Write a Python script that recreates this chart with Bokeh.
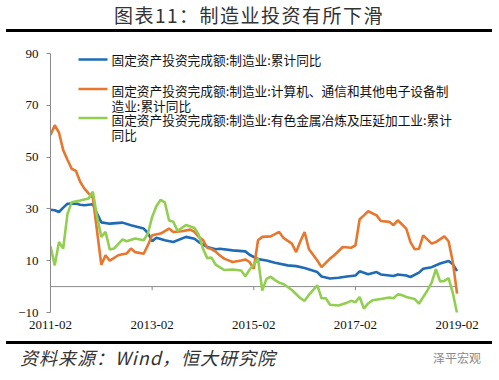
from bokeh.plotting import figure
from bokeh.models import Label, BoxAnnotation, FixedTicker, Div
from bokeh.layouts import column
from bokeh.embed import file_html
from bokeh.resources import INLINE

# ---- data (month index: 0 = 2011-02) ----
blue_m = [0,1,2,3,4,6,7,8,10,11,12,14,17,19,22,23,24,25,27,29,32,34,35,37,39,40,43,46,47,49,51,53,56,58,60,63,64,66,68,70,72,73,75,77,78,81,82,84,85,87,88,90,92,94,95,96]
blue_v = [29.7,29.5,28.8,30.5,32.0,32.1,31.6,31.4,31.8,28.2,24.8,24.3,24.7,23.7,22.4,20.7,17.5,18.9,17.9,17.2,19.2,18.5,17.2,15.3,14.4,14.6,14.0,13.6,12.3,10.6,10.1,9.2,8.2,7.9,7.2,5.6,3.9,3.1,3.4,3.9,4.3,5.9,4.8,5.6,4.7,4.1,4.7,4.3,3.7,5.4,6.9,7.5,8.9,9.9,8.6,6.0]

orange_m = [0,1,2,3,4,5,6,7,8,9,10,12,13,14,16,17,18,19,20,22,23,24,26,28,29,31,33,34,35,36,37,38,39,40,41,43,45,46,47,48,49,50,52,54,55,57,58,59,60,61,63,64,66,67,69,71,72,73,74,75,77,78,80,81,82,84,85,86,87,88,90,91,93,94,95,96]
orange_v = [58.5,62.3,59.5,52.7,49.0,45.5,44.7,40.5,37.8,36.0,34.3,8.4,12.1,10.0,12.1,12.5,12.8,14.7,13.3,12.7,16.0,19.8,20.5,22.4,21.1,21.4,22.0,21.1,19.2,18.0,15.0,14.5,13.5,12.0,10.8,9.5,10.1,10.5,9.5,6.9,17.9,19.2,19.4,21.1,18.8,16.6,13.3,17.5,21.1,14.5,10.1,7.5,10.8,12.1,15.3,15.0,15.9,26.0,27.5,29.1,27.5,25.3,25.0,23.7,25.6,22.4,17.2,14.4,14.6,19.8,16.6,17.2,19.4,17.5,9.5,-2.7]

green_m = [0,1,2,3,4,5,7,9,10,11,12,13,14,15,17,18,20,22,23,24,25,26,27,28,29,30,32,34,35,36,37,38,39,41,43,45,46,47,48,49,50,51,52,53,54,55,57,59,60,61,63,64,65,66,68,70,71,72,73,74,75,76,78,80,81,82,83,84,86,87,88,89,90,91,92,93,94,95,96]
green_v = [15.6,8.2,17.2,14.7,28.0,32.6,33.2,34.0,36.6,27.0,19.2,21.1,14.3,14.7,18.2,17.5,18.6,17.9,20.5,26.9,31.0,33.5,32.5,25.5,25.0,21.5,23.8,22.6,20.0,14.7,11.0,11.2,8.5,6.4,6.6,6.2,4.0,6.5,8.5,10.8,-1.5,3.0,3.8,2.5,1.5,1.0,-1.3,-4.5,-5.5,-3.2,0.5,-4.5,-4.5,-7.0,-7.3,-6.2,-5.5,-6.0,-4.0,-8.5,-6.5,-5.3,-4.8,-4.2,-4.5,-3.0,-3.3,-4.0,-4.8,-6.6,-4.0,-1.5,1.5,6.7,2.0,2.2,3.3,-2.5,-10.3]

tick_months = [0, 24, 48, 72, 96]
tick_labels = ["2011-02", "2013-02", "2015-02", "2017-02", "2019-02"]
y_ticks = [-10, 10, 30, 50, 70, 90]

series_names = [
    ["固定资产投资完成额:制造业:累计同比"],
    ["固定资产投资完成额:制造业:计算机、通信和其他电子设备制", "造业:累计同比"],
    ["固定资产投资完成额:制造业:有色金属冶炼及压延加工业:累计", "同比"],
]
title_text = "图表11：制造业投资有所下滑"
source_text = "资料来源：Wind，恒大研究院"
mark_text = "泽平宏观"

BLUE, ORANGE, GREEN = "#1F6CB4", "#E8762D", "#92CF50"
AX = "#8a8a8a"
CJK = "Noto Sans CJK SC"

# ---- layout geometry (page pixels) ----
TOP_H = 38          # title block height
W, H = 499, 303     # figure
ML, MR, MT, MB = 50, 31, 15, 29
BOT_H = 39
X0, X1, Y0, Y1 = 0, 98.7, -10, 90

title_div = Div(width=W, height=TOP_H, margin=(0, 0, 0, 0), text=(
    f'<div style="margin-left:6px;width:486px;height:32px;line-height:30px;'
    f'border-bottom:3.5px solid #000;text-align:center;font-family:\'{CJK}\';'
    f'font-size:19px;letter-spacing:1.5px;color:#333;">{title_text}</div>'))

p = figure(width=W, height=H, x_range=(X0, X1), y_range=(Y0, Y1),
           output_backend="svg", toolbar_location=None,
           min_border_left=ML, min_border_right=MR,
           min_border_top=MT, min_border_bottom=MB)
p.outline_line_color = None
p.grid.visible = False
p.background_fill_color = "white"
p.border_fill_color = "white"

fw, fh = W - ML - MR, H - MT - MB
def xd(px):
    return X0 + (px - ML) * (X1 - X0) / fw
def yd(py):
    return Y1 - (py - TOP_H - MT) * (Y1 - Y0) / fh

# axes
p.yaxis.ticker = FixedTicker(ticks=y_ticks)
p.yaxis.axis_line_color = AX
p.yaxis.major_tick_line_color = AX
p.yaxis.major_tick_in = 0
p.yaxis.major_tick_out = 4
p.yaxis.minor_tick_line_color = None
p.yaxis.major_label_standoff = 8
p.yaxis.major_label_text_font = "Liberation Serif"
p.yaxis.major_label_text_font_size = "13px"
p.yaxis.major_label_text_color = "#111111"

p.xaxis.ticker = FixedTicker(ticks=tick_months)
p.xaxis.major_label_overrides = {m: l for m, l in zip(tick_months, tick_labels)}
p.xaxis.axis_line_color = None
p.xaxis.major_tick_line_color = None
p.xaxis.minor_tick_line_color = None
p.xaxis.major_tick_out = 0
p.xaxis.major_label_standoff = 8
p.xaxis.major_label_text_font = "Liberation Serif"
p.xaxis.major_label_text_font_size = "13px"
p.xaxis.major_label_text_color = "#111111"

# zero line across the data span, with ticks at inner labels
p.segment(x0=[tick_months[0]], y0=[0], x1=[tick_months[-1]], y1=[0], line_color=AX, line_width=1)
inner = tick_months[1:-1]
p.segment(x0=inner, y0=[0]*len(inner), x1=inner, y1=[-1.4]*len(inner),
          line_color=AX, line_width=1)

# series
p.line(blue_m, blue_v, line_color=BLUE, line_width=2.6)
p.line(orange_m, orange_v, line_color=ORANGE, line_width=2.6)
p.line(green_m, green_v, line_color=GREEN, line_width=2.6)

# legend (manual)
leg_rows = [(59, [59]), (88.5, [90, 105]), (117.5, [118.5, 134])]
for (sy, text_ys), col, names in zip(leg_rows, [BLUE, ORANGE, GREEN], series_names):
    p.add_layout(BoxAnnotation(left=xd(78), right=xd(107), top=yd(sy - 1.3), bottom=yd(sy + 1.3),
                               fill_color=col, fill_alpha=1, line_color=None))
    for ty, t in zip(text_ys, names):
        p.add_layout(Label(x=xd(111), y=yd(ty), text=t, text_font=CJK, text_font_size="12.7px",
                           text_baseline="middle", text_color="#111111"))

source_div = Div(width=W, height=BOT_H, margin=(0, 0, 0, 0), text=(
    f'<div style="position:relative;margin-left:6px;width:486px;height:32px;'
    f'border-top:3.5px solid #000;">'
    f'<div style="position:absolute;left:14px;top:3px;line-height:20px;font-family:\'{CJK}\';'
    f'font-size:18px;font-style:italic;letter-spacing:1px;color:#333;white-space:nowrap;">{source_text}</div>'
    f'<div style="position:absolute;left:427px;top:5px;line-height:18px;font-family:\'{CJK}\';'
    f'font-size:12px;color:#8a8a8a;white-space:nowrap;">{mark_text}</div></div>'))

layout = column(title_div, p, source_div, spacing=0)

open("out.html", "w").write(file_html(layout, INLINE))
